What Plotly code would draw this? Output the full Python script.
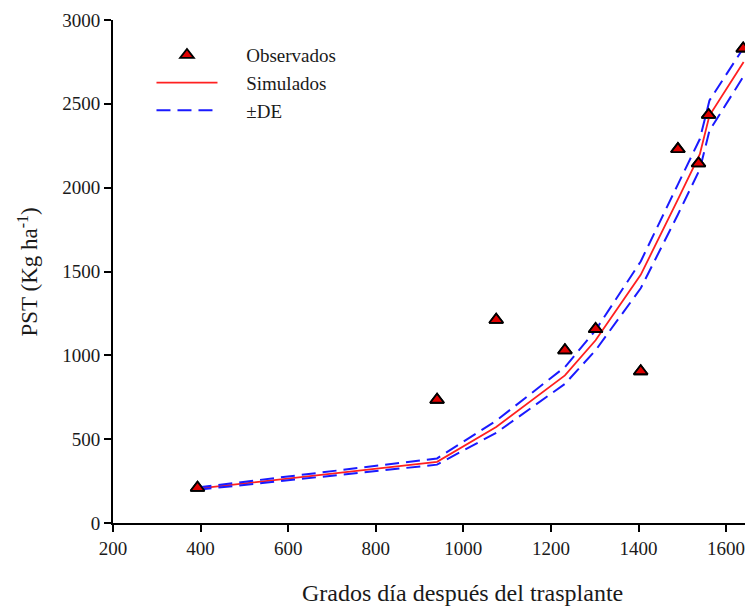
import plotly.graph_objects as go

# Observed data
obs_x = [393, 940, 1075, 1232, 1302, 1405, 1490, 1537, 1560, 1639]
obs_y = [210, 735, 1212, 1030, 1157, 905, 2230, 2145, 2434, 2830]

# Simulated
sim_x = [393, 940, 1075, 1232, 1302, 1405, 1490, 1540, 1562, 1640]
sim_y = [205, 365, 572, 880, 1090, 1480, 1930, 2200, 2430, 2750]

# +/- DE
up_y = [212, 385, 610, 930, 1150, 1560, 2020, 2290, 2520, 2835]
lo_y = [198, 348, 538, 830, 1030, 1400, 1840, 2110, 2340, 2665]

x_ticks = [200, 400, 600, 800, 1000, 1200, 1400, 1600]
y_ticks = [0, 500, 1000, 1500, 2000, 2500, 3000]

font_family = "Liberation Serif, Times New Roman, serif"
pad = "\u00a0" * 5

fig = go.Figure()
fig.add_trace(go.Scatter(
    x=obs_x, y=obs_y, mode="markers", name=pad + "Observados",
    marker=dict(symbol="triangle-up", size=12, color="#e00000",
                line=dict(color="black", width=1.8)),
))
fig.add_trace(go.Scatter(
    x=sim_x, y=sim_y, mode="lines", name=pad + "Simulados",
    line=dict(color="#ff2020", width=1.8),
))
fig.add_trace(go.Scatter(
    x=sim_x, y=up_y, mode="lines", name=pad + "±DE",
    line=dict(color="#1a1aff", width=2, dash="14px,7px"),
    legendgroup="de",
))
fig.add_trace(go.Scatter(
    x=sim_x, y=lo_y, mode="lines", name="±DE", showlegend=False,
    line=dict(color="#1a1aff", width=2, dash="14px,7px"),
    legendgroup="de",
))
# redraw markers on top
fig.add_trace(go.Scatter(
    x=obs_x, y=obs_y, mode="markers", showlegend=False, hoverinfo="skip",
    marker=dict(symbol="triangle-up", size=12, color="#e00000",
                line=dict(color="black", width=1.8)),
))

fig.update_layout(
    width=753, height=614,
    margin=dict(l=105, r=13, t=12, b=99),
    paper_bgcolor="white", plot_bgcolor="white",
    font=dict(family=font_family, color="#1a1a1a", size=19),
    showlegend=True,
    legend=dict(
        x=0.0606, y=0.968, xanchor="left", yanchor="top",
        bgcolor="rgba(0,0,0,0)", font=dict(size=19, family=font_family),
        tracegroupgap=0, itemwidth=61,
    ),
    xaxis=dict(
        range=[200, 1650], tickvals=x_ticks, showgrid=False, zeroline=False,
        showline=True, linecolor="black", linewidth=2, automargin=False,
        ticks="outside", ticklen=7, tickwidth=2, tickcolor="black",
        tickfont=dict(size=19, family=font_family),
    ),
    yaxis=dict(
        range=[0, 3000], tickvals=y_ticks, showgrid=False, zeroline=False,
        showline=True, linecolor="black", linewidth=2, automargin=False,
        ticks="outside", ticklen=7, tickwidth=2, tickcolor="black",
        tickfont=dict(size=19, family=font_family),
    ),
    annotations=[
        dict(text="Grados día después del trasplante", xref="paper", yref="paper",
             x=(462 - 113) / 635, y=(523 - 593) / 503, xanchor="center", yanchor="middle",
             showarrow=False, font=dict(size=24, family=font_family, color="#1a1a1a")),
        dict(text="PST (Kg ha<sup>-1</sup>)", xref="paper", yref="paper",
             x=(28 - 113) / 635, y=0.5, xanchor="center", yanchor="middle", textangle=-90,
             showarrow=False, font=dict(size=23, family=font_family, color="#1a1a1a")),
    ],
)

fig.write_html("out.html")
